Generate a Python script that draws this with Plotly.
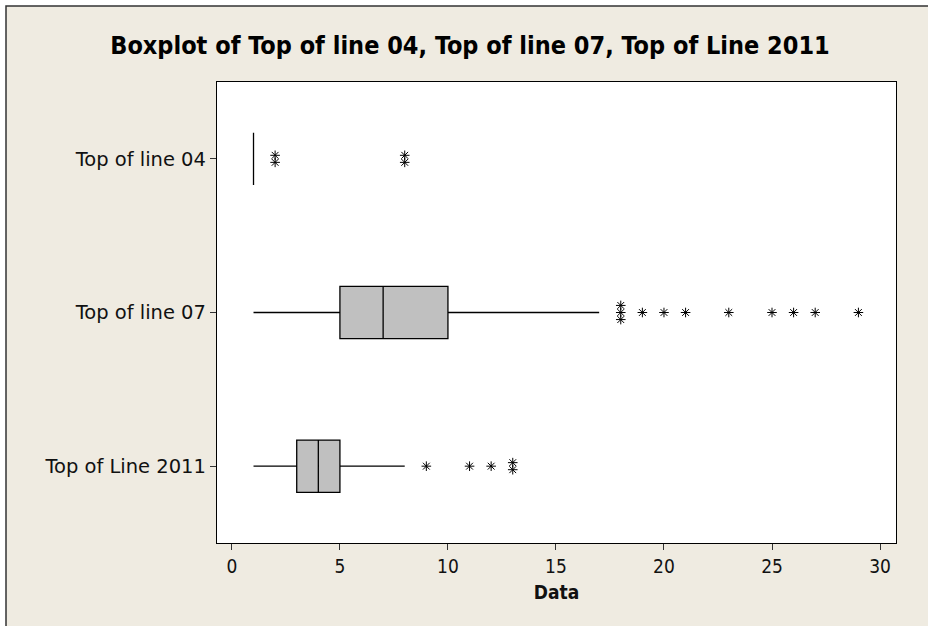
import plotly.graph_objects as go
from collections import Counter

# ---- data ----
categories = ["Top of line 04", "Top of line 07", "Top of Line 2011"]
positions = [2, 1, 0]
q1 = [1, 5, 3]
median = [1, 7, 4]
q3 = [1, 10, 5]
lower_whisker = [1, 1, 1]
upper_whisker = [1, 17, 8]
outliers = [
    [2, 2, 8, 8],
    [18, 18, 18, 19, 20, 21, 23, 25, 26, 27, 29],
    [9, 11, 12, 13, 13],
]
x_ticks = [0, 5, 10, 15, 20, 25, 30]

fig = go.Figure()

for i, cat in enumerate(categories):
    fig.add_trace(go.Box(
        y=[positions[i]], q1=[q1[i]], median=[median[i]], q3=[q3[i]],
        lowerfence=[lower_whisker[i]], upperfence=[upper_whisker[i]],
        orientation="h", boxpoints=False, width=0.34,
        fillcolor="#C0C0C0", line=dict(color="black", width=1.3),
        whiskerwidth=0, showlegend=False, name=cat, hoverinfo="skip",
    ))
    # stacked outliers
    step = 0.046
    xs, ys = [], []
    counts = Counter(outliers[i])
    for v, n in counts.items():
        for k in range(n):
            xs.append(v)
            ys.append(positions[i] + (k - (n - 1) / 2) * step)
    fig.add_trace(go.Scatter(
        x=xs, y=ys, mode="markers", showlegend=False, hoverinfo="skip",
        marker=dict(symbol="asterisk-open", size=8, color="black",
                    line=dict(color="#111", width=1)),
    ))

W, H = 928, 626
L, R, T, B = 217, 32, 82, 83
pw, ph = W - L - R, H - T - B

def px_x(p):
    return (p - L) / pw

def px_y(p):
    return 1 - (p - T) / ph

font_lbl = "'DejaVu Sans', Verdana, sans-serif"
font_title = "'DejaVu Sans Condensed', Tahoma, sans-serif"

fig.update_layout(
    width=W, height=H,
    margin=dict(l=L, r=R, t=T, b=B),
    paper_bgcolor="white",
    plot_bgcolor="white",
    font=dict(family=font_lbl, size=16, color="#111"),
    title=dict(
        text="<b>Boxplot of Top of line 04, Top of line 07, Top of Line 2011</b>",
        x=470 / W, xanchor="center", y=1 - 45 / H, yanchor="middle",
        font=dict(size=25, color="black", family=font_title),
    ),
    shapes=[dict(
        type="rect", xref="paper", yref="paper", layer="below",
        x0=px_x(6), x1=px_x(940), y0=px_y(640), y1=px_y(6),
        fillcolor="#EFEBE1", line=dict(color="#333", width=1.5),
    ), dict(
        type="rect", xref="paper", yref="paper", layer="below",
        x0=0, x1=1, y0=0, y1=1, fillcolor="white", line=dict(width=0),
    )],
)

fig.update_xaxes(
    range=[-0.69, 30.74], tickvals=x_ticks, ticktext=[str(t) for t in x_ticks],
    ticks="outside", ticklen=6, tickcolor="#333", showgrid=False, zeroline=False,
    showline=True, linecolor="black", linewidth=1.3, mirror=True,
    tickfont=dict(family=font_title, size=19),
    title=dict(text="<b>Data</b>", font=dict(size=19, family=font_title), standoff=9),
)
fig.update_yaxes(
    range=[-0.5, 2.5], tickvals=positions, ticktext=categories,
    ticks="outside", ticklen=6, tickcolor="#333", showgrid=False, zeroline=False,
    showline=True, linecolor="black", linewidth=1.3, mirror=True,
    tickfont=dict(family=font_lbl, size=19.5),
)

fig.write_html("out.html")
